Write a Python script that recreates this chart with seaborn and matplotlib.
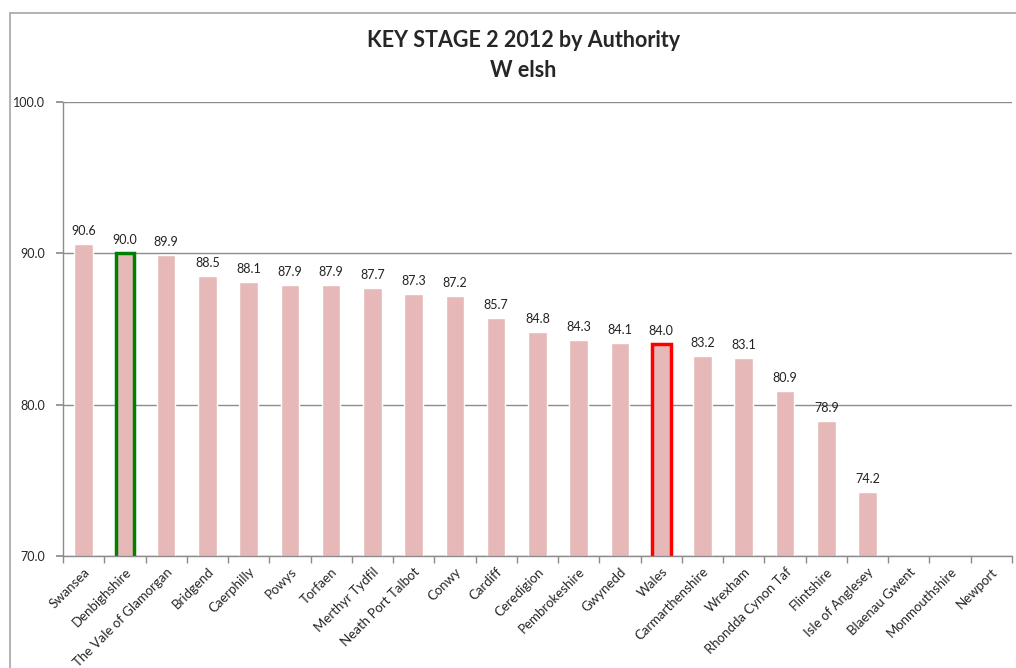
import numpy as np
import pandas as pd
import matplotlib.pyplot as plt
from matplotlib.lines import Line2D
import seaborn as sns

# data
AUTHORITIES = [
    "Swansea", "Denbighshire", "The Vale of Glamorgan", "Bridgend", "Caerphilly",
    "Powys", "Torfaen", "Merthyr Tydfil", "Neath Port Talbot", "Conwy", "Cardiff",
    "Ceredigion", "Pembrokeshire", "Gwynedd", "Wales", "Carmarthenshire",
    "Wrexham", "Rhondda Cynon Taf", "Flintshire", "Isle of Anglesey",
    "Blaenau Gwent", "Monmouthshire", "Newport",
]
SCORES = [
    90.6, 90.0, 89.9, 88.5, 88.1, 87.9, 87.9, 87.7, 87.3, 87.2, 85.7,
    84.8, 84.3, 84.1, 84.0, 83.2, 83.1, 80.9, 78.9, 74.2,
    np.nan, np.nan, np.nan,
]
HIGHLIGHT = {"Denbighshire": "#008000", "Wales": "#FF0000"}

BAR_COLOR = "#E6B9B8"
GRID_COLOR = "#8C8C8C"

sns.set_theme(style="white")
plt.rcParams["font.family"] = ["Lato", "DejaVu Sans"]

df = pd.DataFrame({"authority": AUTHORITIES, "score": SCORES})

fig = plt.figure(figsize=(10.16, 6.68), dpi=100)
ax = fig.add_axes([0.062, 0.168, 0.934, 0.679])

sns.barplot(data=df, x="authority", y="score", order=AUTHORITIES,
            color=BAR_COLOR, width=0.45, saturation=1, ax=ax)

# outline the highlighted bars and write the values above each bar
for patch in ax.patches:
    idx = int(round(patch.get_x() + patch.get_width() / 2))
    name, val = AUTHORITIES[idx], SCORES[idx]
    if np.isnan(val):
        continue
    if name in HIGHLIGHT:
        patch.set_edgecolor(HIGHLIGHT[name])
        patch.set_linewidth(2.5)
    ax.annotate(f"{val:.1f}", (idx, val), xytext=(0, 5),
                textcoords="offset points", ha="center", va="bottom",
                fontsize=9, color="#222222")

ax.set_ylim(70, 100)
ax.set_yticks([70, 80, 90, 100])
ax.set_yticklabels([f"{t:.1f}" for t in [70, 80, 90, 100]], fontsize=9)
ax.set_xlim(-0.5, len(AUTHORITIES) - 0.5)
ax.yaxis.grid(True, color=GRID_COLOR, linewidth=1)
ax.set_axisbelow(True)
ax.set_xlabel("")
ax.set_ylabel("")

ax.set_xticks(np.arange(len(AUTHORITIES)))
ax.set_xticklabels(AUTHORITIES, rotation=45, ha="right",
                   rotation_mode="anchor", fontsize=9.5)
ax.tick_params(axis="x", length=0, pad=7)
ax.set_xticks(np.arange(len(AUTHORITIES) + 1) - 0.5, minor=True)
ax.tick_params(axis="x", which="minor", length=5, color=GRID_COLOR,
               direction="out", bottom=True)
ax.tick_params(axis="y", length=5, color=GRID_COLOR, left=True, pad=8)

for side in ["top", "right"]:
    ax.spines[side].set_visible(False)
for side in ["left", "bottom"]:
    ax.spines[side].set_color(GRID_COLOR)
    ax.spines[side].set_linewidth(1)

fig.text(0.515, 0.94, "KEY STAGE 2 2012 by Authority", ha="center",
         va="center", fontsize=15.5, fontweight="bold")
fig.text(0.515, 0.895, "W elsh", ha="center", va="center",
         fontsize=15.5, fontweight="bold")

# chart frame
fig.add_artist(Line2D([10 / 1016, 10 / 1016], [0, 1 - 13 / 668],
                      color="#A6A6A6", linewidth=1.2))
fig.add_artist(Line2D([10 / 1016, 1], [1 - 13 / 668, 1 - 13 / 668],
                      color="#A6A6A6", linewidth=1.2))

fig.savefig("out.png", dpi=100)
